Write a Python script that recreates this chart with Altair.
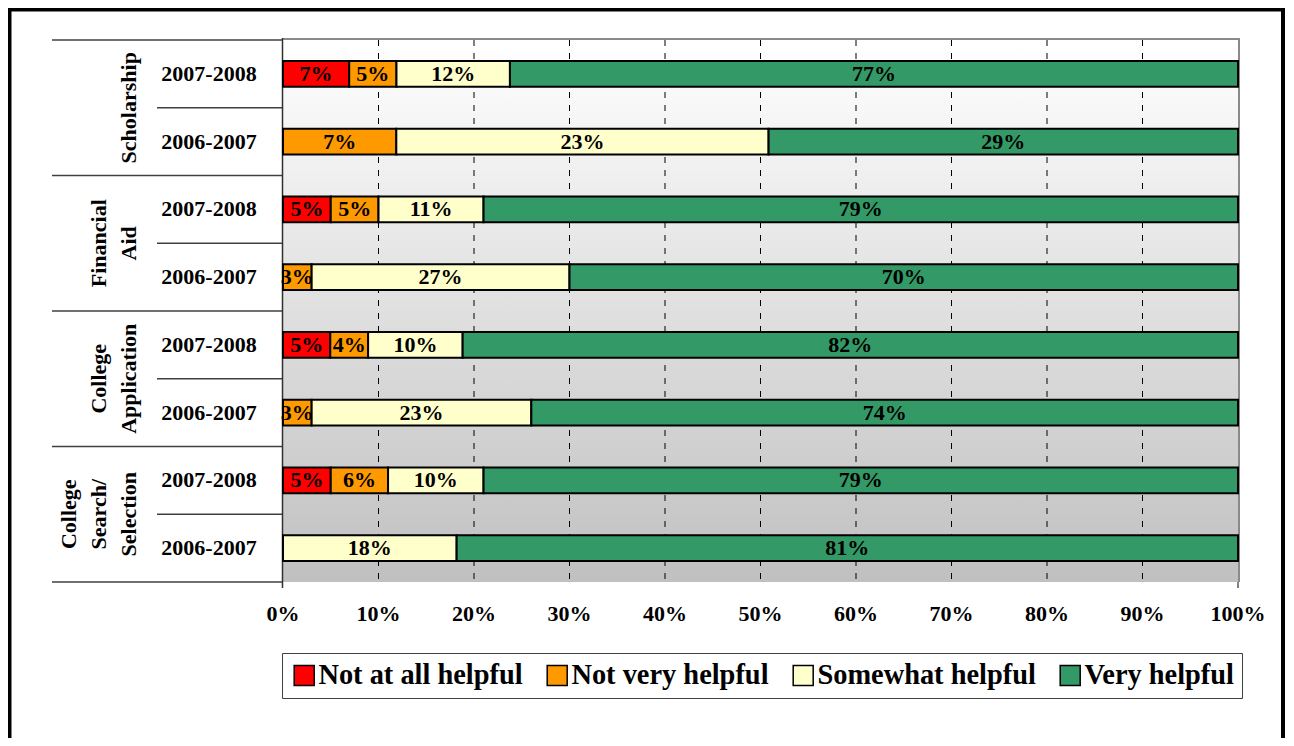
import altair as alt
import pandas as pd

# ---- data ----
groups = ["Scholarship", "Scholarship", "Financial Aid", "Financial Aid",
          "College Application", "College Application",
          "College Search/Selection", "College Search/Selection"]
years = ["2007-2008", "2006-2007", "2007-2008", "2006-2007",
         "2007-2008", "2006-2007", "2007-2008", "2006-2007"]
categories = ["Not at all helpful", "Not very helpful", "Somewhat helpful", "Very helpful"]
colors = ["#FF0000", "#FF9900", "#FFFFCC", "#339966"]
not_at_all = [7, 0, 5, 0, 5, 0, 5, 0]
not_very = [5, 7, 5, 3, 4, 3, 6, 0]
somewhat = [12, 23, 11, 27, 10, 23, 10, 18]
very = [77, 29, 79, 70, 82, 74, 79, 81]
group_labels = ["Scholarship", "Financial\nAid", "College\nApplication", "College\nSearch/\nSelection"]
group_centers = [1, 3, 5, 7]
x_ticks = [0, 0.1, 0.2, 0.3, 0.4, 0.5, 0.6, 0.7, 0.8, 0.9, 1.0]
group_bounds = [0, 2, 4, 6, 8]
row_bounds = [1, 3, 5, 7]

FONT = "Liberation Serif"
W, H = 955, 542
LH = 30

series = [not_at_all, not_very, somewhat, very]
recs = []
for r in range(len(years)):
    for k, cat in enumerate(categories):
        v = series[k][r]
        if v > 0:
            recs.append({"row": r, "cat": cat, "order": k, "value": v})
df = pd.DataFrame(recs)
rows_df = pd.DataFrame({"row": list(range(len(years))), "year": years})
groups_df = pd.DataFrame({"label": group_labels, "c": group_centers,
                          "n": [g.count("\n") + 1 for g in group_labels]})
bg_df = pd.DataFrame({"bx0": [0.0], "bx1": [1.0], "by0": [0.0], "by1": [8.0]})
ticks_df = pd.DataFrame({"t": x_ticks})
one = pd.DataFrame({"a": [0]})

yscale = alt.Scale(domain=[0, 8], reverse=True, nice=False, zero=False)
xscale = alt.Scale(domain=[0, 1], nice=False, zero=False)

background = alt.Chart(bg_df).mark_rect(
    color=alt.LinearGradient(gradient="linear",
                             stops=[alt.GradientStop(color="#ffffff", offset=0),
                                    alt.GradientStop(color="#c0c0c0", offset=1)],
                             x1=0, x2=0, y1=0, y2=1)
).encode(x=alt.X("bx0:Q", scale=xscale, axis=None), x2="bx1:Q",
         y=alt.Y("by0:Q", scale=yscale, axis=None), y2="by1:Q")

grid = alt.Chart(ticks_df).transform_filter("datum.t > 0 && datum.t < 1").mark_rule(
    color="black", strokeWidth=1, strokeDash=[6, 7]
).encode(x=alt.X("t:Q", scale=xscale, axis=None), y=alt.value(0), y2=alt.value(H))

tick_labels = alt.Chart(ticks_df).transform_calculate(
    lab="format(datum.t, '.0%')"
).mark_text(font=FONT, fontWeight="bold", fontSize=22, color="black",
            align="center", baseline="middle").encode(
    x=alt.X("t:Q", scale=xscale, axis=None), y=alt.value(H + 32), text="lab:N")

long_sep = alt.Chart(pd.DataFrame({"p": group_bounds})).mark_rule(
    color="#404040", strokeWidth=1.5
).encode(x=alt.value(-231), x2=alt.value(0), y=alt.Y("p:Q", scale=yscale, axis=None))

short_sep = alt.Chart(pd.DataFrame({"p": row_bounds})).mark_rule(
    color="#404040", strokeWidth=1.5
).encode(x=alt.value(-126), x2=alt.value(0), y=alt.Y("p:Q", scale=yscale, axis=None))

top_border = alt.Chart(one).mark_rule(color="#8a8a8a", strokeWidth=2).encode(
    x=alt.value(0), x2=alt.value(W + 2), y=alt.value(-1))
right_border = alt.Chart(one).mark_rule(color="#8a8a8a", strokeWidth=2).encode(
    x=alt.value(W + 1), y=alt.value(-1), y2=alt.value(H))
right_tick = alt.Chart(one).mark_rule(color="black", strokeWidth=1).encode(
    x=alt.value(W), y=alt.value(H), y2=alt.value(H + 6))
left_axis = alt.Chart(one).mark_rule(color="#303030", strokeWidth=1.5).encode(
    x=alt.value(-0.5), y=alt.value(-2), y2=alt.value(H + 6))

base = alt.Chart(df).transform_stack(
    stack="value", groupby=["row"], sort=[alt.SortField("order", "ascending")],
    offset="normalize", as_=["x0", "x1"]
).transform_calculate(
    ylo="datum.row + 0.31", yhi="datum.row + 0.69",
    ym="datum.row + 0.5", xm="(datum.x0 + datum.x1) / 2",
    label="datum.value + '%'"
)

bars = base.mark_rect(stroke="black", strokeWidth=2).encode(
    x=alt.X("x0:Q", scale=xscale, axis=None),
    x2="x1:Q",
    y=alt.Y("ylo:Q", scale=yscale, axis=None),
    y2="yhi:Q",
    color=alt.Color("cat:N", scale=alt.Scale(domain=categories, range=colors),
                    legend=alt.Legend(orient="none", legendX=-1, legendY=613,
                                      direction="horizontal", title=None,
                                      symbolType="square", symbolSize=400,
                                      symbolStrokeColor="black", symbolStrokeWidth=1.5,
                                      labelFont=FONT, labelFontWeight="bold",
                                      labelFontSize=28.4, labelColor="black",
                                      labelOffset=0, labelLimit=400, columnPadding=20,
                                      padding=8, strokeColor="#404040",
                                      fillColor="white")),
)

labels = base.mark_text(font=FONT, fontWeight="bold", fontSize=22, color="black",
                        baseline="middle", align="center").encode(
    x=alt.X("xm:Q", scale=xscale, axis=None),
    y=alt.Y("ym:Q", scale=yscale, axis=None),
    text="label:N",
)

year_text = alt.Chart(rows_df).transform_calculate(ym="datum.row + 0.5").mark_text(
    font=FONT, fontWeight="bold", fontSize=22, color="black", align="center", baseline="middle"
).encode(x=alt.value(-74), y=alt.Y("ym:Q", scale=yscale, axis=None), text="year:N")

group_layers = []
for n in sorted(set(groups_df["n"])):
    group_layers.append(
        alt.Chart(groups_df).transform_filter(f"datum.n == {n}").mark_text(
            font=FONT, fontWeight="bold", fontSize=22, color="black", align="center",
            baseline="bottom", angle=270, lineBreak="\n", lineHeight=LH
        ).encode(x=alt.value(-142 - LH * (n - 1)),
                 y=alt.Y("c:Q", scale=yscale, axis=None), text="label:N")
    )

frame = alt.Chart(one).mark_rect(fillOpacity=0, stroke="black", strokeWidth=4).encode(
    x=alt.value(-273.5), x2=alt.value(1000), y=alt.value(-30.5), y2=alt.value(760))

chart = alt.layer(
    background, grid, long_sep, short_sep, top_border, right_border, right_tick,
    left_axis, bars, labels, tick_labels, year_text, *group_layers, frame
).properties(
    width=W, height=H,
    autosize=alt.AutoSizeParams(type="none"),
    padding={"left": 275, "top": 32, "right": 48, "bottom": 156},
    background="white",
).configure_view(stroke=None)

chart.save("out.html", embed_options={"renderer": "svg", "actions": False})
